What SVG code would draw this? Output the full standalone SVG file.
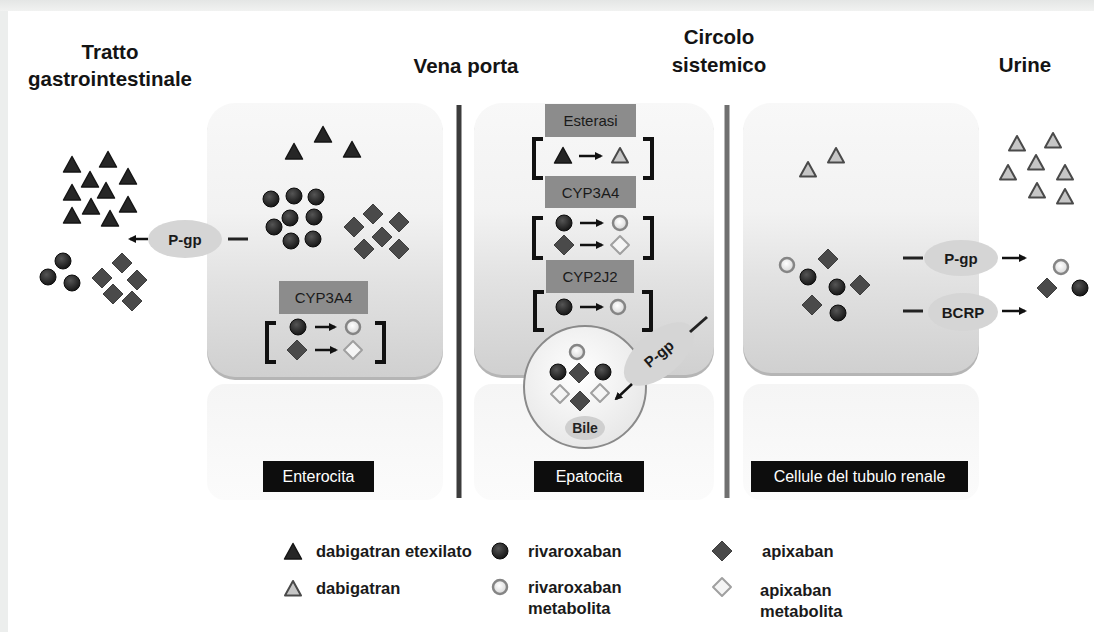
<svg xmlns="http://www.w3.org/2000/svg" xmlns:xlink="http://www.w3.org/1999/xlink" width="1094" height="632" viewBox="0 0 1094 632">
<style>
text{font-family:"Liberation Sans",Arial,sans-serif}
.title{font-size:20.5px;font-weight:bold;fill:#141414;text-anchor:middle}
.enz{font-size:15px;fill:#1a1a1a;text-anchor:middle}
.tp{font-size:15px;fill:#1a1a1a;text-anchor:middle;font-weight:bold}
.lbl{font-size:16px;fill:#fff;text-anchor:middle}
.leg{font-size:16.5px;font-weight:bold;fill:#1a1a1a}
.enzbox{fill:#8c8c8c}
.brk{fill:none;stroke:#111;stroke-width:4}
.arr{stroke:#111;stroke-width:2.5;marker-end:url(#ah)}
.dash{stroke:#222;stroke-width:3}
.panel{fill:url(#gPanel)}
.shadow{fill:#b5b5b5}
.lower{fill:url(#gLow)}
.pgp{fill:#d5d5d5}
.labbox{fill:#0d0d0d}
</style>
<defs>
<linearGradient id="gPanel" x1="0" y1="0" x2="0" y2="1">
<stop offset="0" stop-color="#f8f8f8"/><stop offset="0.4" stop-color="#f2f2f2"/><stop offset="0.65" stop-color="#e2e2e2"/><stop offset="1" stop-color="#d0d0d0"/>
</linearGradient>
<linearGradient id="gLow" x1="0" y1="0" x2="0" y2="1">
<stop offset="0" stop-color="#f5f5f5"/><stop offset="1" stop-color="#fbfbfb"/>
</linearGradient>
<linearGradient id="gTop" x1="0" y1="0" x2="0" y2="1">
<stop offset="0" stop-color="#e4e6e5"/><stop offset="1" stop-color="#f1f2f1"/>
</linearGradient>
<radialGradient id="gD" cx="0.4" cy="0.35" r="0.7">
<stop offset="0" stop-color="#555"/><stop offset="1" stop-color="#121212"/>
</radialGradient>
<radialGradient id="gL" cx="0.45" cy="0.4" r="0.6">
<stop offset="0" stop-color="#ffffff"/><stop offset="1" stop-color="#d6d6d6"/>
</radialGradient>
<radialGradient id="gBile" cx="0.45" cy="0.4" r="0.65">
<stop offset="0" stop-color="#ffffff"/><stop offset="1" stop-color="#e6e6e6"/>
</radialGradient>
<marker id="ah" markerWidth="8" markerHeight="8" refX="6" refY="4" orient="auto" markerUnits="userSpaceOnUse">
<path d="M0,0 L8,4 L0,8 Z" fill="#111"/>
</marker>
<path id="triD" d="M0,-8.5 L8.5,7 L-8.5,7 Z" fill="#262626" stroke="#151515" stroke-width="1.5" stroke-linejoin="round"/>
<path id="triL" d="M0,-8 L8,6.5 L-8,6.5 Z" fill="#c6c6c6" stroke="#4a4a4a" stroke-width="2" stroke-linejoin="round"/>
<circle id="cirD" r="8" fill="url(#gD)" stroke="#0b0b0b" stroke-width="1"/>
<circle id="cirL" r="7" fill="url(#gL)" stroke="#858585" stroke-width="2.5"/>
<path id="diaD" d="M0,-10 L10,0 L0,10 L-10,0 Z" fill="#4a4a4a" stroke="#3e3e3e" stroke-width="1" stroke-linejoin="round"/>
<path id="diaL" d="M0,-9 L9,0 L0,9 L-9,0 Z" fill="#f5f5f5" stroke="#a0a0a0" stroke-width="2" stroke-linejoin="round"/>
</defs>

<!-- background -->
<rect x="0" y="0" width="1094" height="632" fill="#eceeed"/>
<rect x="0" y="0" width="1094" height="11" fill="url(#gTop)"/>
<rect x="8" y="11" width="1086" height="621" fill="#ffffff"/>

<!-- titles -->
<g id="title-tratto">
<text class="title" x="110" y="59">Tratto</text>
<text class="title" x="110" y="86">gastrointestinale</text>
</g>
<g id="title-vena"><text class="title" x="466" y="73">Vena porta</text></g>
<g id="title-circolo">
<text class="title" x="719" y="44">Circolo</text>
<text class="title" x="719" y="72">sistemico</text>
</g>
<g id="title-urine"><text class="title" x="1025" y="72">Urine</text></g>

<!-- dividers -->
<g id="dividers">
<rect x="456.5" y="105" width="5" height="393" fill="#3c3c3c"/>
<rect x="724.5" y="105" width="5" height="393" fill="#707070"/>
</g>

<!-- GI lumen -->
<g id="gi-lumen">
<use href="#triD" x="72" y="165"/><use href="#triD" x="108" y="160"/><use href="#triD" x="90" y="180"/>
<use href="#triD" x="128" y="177"/><use href="#triD" x="72" y="193"/><use href="#triD" x="106" y="191"/>
<use href="#triD" x="91" y="207"/><use href="#triD" x="128" y="205"/><use href="#triD" x="72" y="216"/>
<use href="#triD" x="110" y="219"/>
<use href="#cirD" x="63" y="261"/><use href="#cirD" x="48" y="277"/><use href="#cirD" x="72" y="283"/>
<use href="#diaD" x="122" y="263"/><use href="#diaD" x="102" y="278"/><use href="#diaD" x="137" y="280"/>
<use href="#diaD" x="113" y="294"/><use href="#diaD" x="132" y="301"/>
</g>

<!-- Enterocita -->
<g id="cell-enterocita">
<rect x="207" y="384" width="236" height="116" rx="18" class="lower"/>
<rect x="207" y="106" width="236" height="274" rx="28" class="shadow"/>
<rect x="207" y="103" width="236" height="274" rx="28" class="panel"/>
<use href="#triD" x="294" y="152"/><use href="#triD" x="323" y="135"/><use href="#triD" x="352" y="150"/>
<use href="#cirD" x="271" y="199"/><use href="#cirD" x="294" y="196"/><use href="#cirD" x="316" y="197"/>
<use href="#cirD" x="290" y="218"/><use href="#cirD" x="314" y="217"/><use href="#cirD" x="274" y="227"/>
<use href="#cirD" x="291" y="241"/><use href="#cirD" x="313" y="239"/>
<use href="#diaD" x="373" y="214"/><use href="#diaD" x="399" y="222"/><use href="#diaD" x="354" y="227"/>
<use href="#diaD" x="382" y="237"/><use href="#diaD" x="364" y="249"/><use href="#diaD" x="399" y="249"/>
<rect x="279" y="281" width="89" height="33" class="enzbox"/>
<text class="enz" x="323.5" y="303">CYP3A4</text>
<path class="brk" d="M276,323 H267 V362 H276"/>
<path class="brk" d="M375,323 H384 V362 H375"/>
<use href="#cirD" x="298" y="327"/><use href="#cirL" x="353" y="327"/>
<use href="#diaD" x="297" y="350"/><use href="#diaL" x="353" y="350"/>
<rect x="263" y="461" width="111" height="31" class="labbox"/>
<text class="lbl" x="318.5" y="482">Enterocita</text>
</g>

<!-- P-gp enterocyte -->
<g id="pgp-entero">
<ellipse cx="185" cy="239" rx="37" ry="19" class="pgp"/>
<text class="tp" x="185" y="245">P-gp</text>
</g>

<!-- Epatocita -->
<g id="cell-epatocita">
<rect x="474" y="384" width="240" height="116" rx="18" class="lower"/>
<rect x="474" y="106" width="240" height="272" rx="28" class="shadow"/>
<rect x="474" y="103" width="240" height="272" rx="28" class="panel"/>
<rect x="545" y="104" width="91" height="33" class="enzbox"/>
<text class="enz" x="590.5" y="126">Esterasi</text>
<path class="brk" d="M543,139 H534 V178 H543"/>
<path class="brk" d="M643,139 H652 V178 H643"/>
<use href="#triD" x="563" y="156"/><use href="#triL" x="620" y="156"/>
<rect x="545" y="176" width="91" height="32" class="enzbox"/>
<text class="enz" x="590.5" y="198">CYP3A4</text>
<path class="brk" d="M543,218 H534 V258 H543"/>
<path class="brk" d="M643,218 H652 V258 H643"/>
<use href="#cirD" x="564" y="223"/><use href="#cirL" x="620" y="223"/>
<use href="#diaD" x="564" y="245"/><use href="#diaL" x="620" y="245"/>
<rect x="546" y="260" width="88" height="33" class="enzbox"/>
<text class="enz" x="590" y="282">CYP2J2</text>
<path class="brk" d="M544,292 H535 V330 H544"/>
<path class="brk" d="M642,292 H651 V330 H642"/>
<use href="#cirD" x="564" y="307"/><use href="#cirL" x="618" y="307"/>
<rect x="534" y="461" width="110" height="31" class="labbox"/>
<text class="lbl" x="589" y="482">Epatocita</text>
</g>

<!-- Bile -->
<g id="bile">
<circle cx="585" cy="387" r="61" fill="url(#gBile)" stroke="#8a8a8a" stroke-width="2"/>
<use href="#cirL" x="577" y="352"/>
<use href="#cirD" x="558" y="372"/><use href="#diaD" x="579" y="373"/><use href="#cirD" x="603" y="372"/>
<use href="#diaL" x="560" y="394"/><use href="#diaD" x="580" y="401"/><use href="#diaL" x="600" y="393"/>
<ellipse cx="585" cy="428" rx="20" ry="12" fill="#cfcfcf"/>
<text x="585" y="433" font-size="14" font-weight="bold" fill="#222" text-anchor="middle">Bile</text>
</g>

<!-- P-gp hepatocyte -->
<g id="pgp-hepato" transform="translate(659,354) rotate(-40)">
<ellipse cx="0" cy="0" rx="42" ry="22" class="pgp"/>
<text class="tp" x="0" y="5">P-gp</text>
</g>

<!-- Renal cell -->
<g id="cell-renale">
<rect x="743" y="384" width="236" height="116" rx="18" class="lower"/>
<rect x="743" y="106" width="236" height="270" rx="28" class="shadow"/>
<rect x="743" y="103" width="236" height="270" rx="28" class="panel"/>
<use href="#triL" x="808" y="170"/><use href="#triL" x="836" y="156"/>
<use href="#cirL" x="787" y="265"/><use href="#diaD" x="828" y="259"/><use href="#cirD" x="808" y="277"/>
<use href="#cirD" x="837" y="287"/><use href="#diaD" x="860" y="285"/><use href="#diaD" x="812" y="305"/>
<use href="#cirD" x="838" y="313"/>
<rect x="751" y="461" width="217" height="31" class="labbox"/>
<text class="lbl" x="859.5" y="482">Cellule del tubulo renale</text>
</g>

<g id="pgp-renal">
<ellipse cx="961" cy="258" rx="37" ry="18" class="pgp"/>
<text class="tp" x="961" y="264">P-gp</text>
</g>
<g id="bcrp-renal">
<ellipse cx="963" cy="312" rx="35" ry="19" class="pgp"/>
<text class="tp" x="963" y="318">BCRP</text>
</g>

<!-- Urine -->
<g id="urine-content">
<use href="#triL" x="1017" y="144"/><use href="#triL" x="1053" y="141"/><use href="#triL" x="1036" y="163"/>
<use href="#triL" x="1008" y="173"/><use href="#triL" x="1065" y="173"/><use href="#triL" x="1037" y="191"/>
<use href="#triL" x="1065" y="197"/>
<use href="#cirL" x="1061" y="267"/><use href="#diaD" x="1047" y="288"/><use href="#cirD" x="1080" y="288"/>
</g>

<!-- connectors -->
<g id="connectors">
<line class="arr" x1="148" y1="239" x2="130" y2="239"/>
<line class="dash" x1="228" y1="239" x2="248" y2="239"/>
<line class="arr" x1="315" y1="327" x2="335" y2="327"/>
<line class="arr" x1="315" y1="350" x2="336" y2="350"/>
<line class="arr" x1="579" y1="156" x2="601" y2="156"/>
<line class="arr" x1="580" y1="223" x2="602" y2="223"/>
<line class="arr" x1="580" y1="245" x2="602" y2="245"/>
<line class="arr" x1="580" y1="307" x2="602" y2="307"/>
<line class="dash" x1="690" y1="332" x2="707" y2="317"/>
<line class="arr" x1="632" y1="384" x2="616" y2="399"/>
<line class="dash" x1="903" y1="258" x2="923" y2="258"/>
<line class="arr" x1="1002" y1="258" x2="1025" y2="258"/>
<line class="dash" x1="903" y1="311" x2="923" y2="311"/>
<line class="arr" x1="1002" y1="311" x2="1025" y2="311"/>
</g>

<!-- legend -->
<g id="legend">
<use href="#triD" x="293" y="552"/>
<text class="leg" x="316" y="557">dabigatran etexilato</text>
<use href="#triL" x="293" y="589"/>
<text class="leg" x="316" y="594">dabigatran</text>
<use href="#cirD" x="500" y="551"/>
<text class="leg" x="528" y="557">rivaroxaban</text>
<use href="#cirL" x="500" y="587"/>
<text class="leg" x="528" y="593">rivaroxaban</text>
<text class="leg" x="528" y="614">metabolita</text>
<use href="#diaD" x="722" y="551"/>
<text class="leg" x="762" y="557">apixaban</text>
<use href="#diaL" x="722" y="587"/>
<text class="leg" x="760" y="596">apixaban</text>
<text class="leg" x="760" y="617">metabolita</text>
</g>
</svg>
